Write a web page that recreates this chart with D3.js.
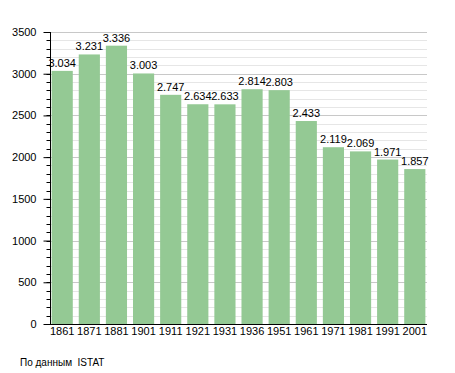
<!DOCTYPE html>
<html>
<head>
<meta charset="utf-8">
<script src="https://cdn.jsdelivr.net/npm/d3@7"></script>
<style>
  body { margin: 0; background: #fff; }
  text { font-family: "Liberation Sans", Arial, sans-serif; }
</style>
</head>
<body>
<svg width="455" height="373"></svg>
<script>
// census years and population
var years = ["1861","1871","1881","1901","1911","1921","1931","1936","1951","1961","1971","1981","1991","2001"];
var population = [3034, 3231, 3336, 3003, 2747, 2634, 2633, 2814, 2803, 2433, 2119, 2069, 1971, 1857];
var valueLabels = ["3.034","3.231","3.336","3.003","2.747","2.634","2.633","2.814","2.803","2.433","2.119","2.069","1.971","1.857"];
var yTicks = [0, 500, 1000, 1500, 2000, 2500, 3000, 3500];

var svg = d3.select("svg");
// plot box (note: "top" is reserved on window, so use other names)
var plotL = 50, plotR = 427, plotT = 32, plotB = 324;

var x = d3.scaleBand()
    .domain(years)
    .range([plotL, plotR])
    .paddingInner(0.22)
    .paddingOuter(0.06);

var y = d3.scaleLinear()
    .domain([0, 3500])
    .range([plotB, plotT]);

// minor grid every 100
svg.append("g").selectAll("line")
    .data(d3.range(100, 3600, 100).filter(function(d){ return d % 500 != 0; }))
    .enter().append("line")
    .attr("x1", plotL).attr("x2", plotR)
    .attr("y1", function(d){ return Math.round(y(d)) + 0.5; })
    .attr("y2", function(d){ return Math.round(y(d)) + 0.5; })
    .attr("stroke", "#e6e6e6");

// major grid
svg.append("g").selectAll("line")
    .data(yTicks.slice(1))
    .enter().append("line")
    .attr("x1", plotL).attr("x2", plotR)
    .attr("y1", function(d){ return Math.round(y(d)) + 0.5; })
    .attr("y2", function(d){ return Math.round(y(d)) + 0.5; })
    .attr("stroke", "#c8c8c8");

// bars
svg.append("g").selectAll("rect")
    .data(population)
    .enter().append("rect")
    .attr("x", function(d, i){ return x(years[i]); })
    .attr("y", function(d){ return y(d); })
    .attr("width", x.bandwidth())
    .attr("height", function(d){ return plotB - y(d); })
    .attr("fill", "#94c994");

// value labels
svg.append("g").selectAll("text")
    .data(population)
    .enter().append("text")
    .attr("x", function(d, i){ return x(years[i]) + x.bandwidth() / 2; })
    .attr("y", function(d){ return y(d) - 4; })
    .attr("text-anchor", "middle")
    .attr("font-size", "11px")
    .text(function(d, i){ return valueLabels[i]; });

// y axis with minor ticks
var yAxis = svg.append("g")
    .attr("transform", "translate(" + (plotL + 0.5) + ",0)");
yAxis.selectAll("line.minor")
    .data(d3.range(0, 3600, 100))
    .enter().append("line")
    .attr("class", "minor")
    .attr("x1", -4).attr("x2", 0)
    .attr("y1", function(d){ return Math.round(y(d)) + 0.5; })
    .attr("y2", function(d){ return Math.round(y(d)) + 0.5; })
    .attr("stroke", "#000");
yAxis.call(d3.axisLeft(y).tickValues(yTicks).tickSize(7).tickPadding(7).tickFormat(d3.format("d")))
    .call(function(g){ g.select(".domain").attr("d", "M0," + plotT + "V" + plotB); })
    .selectAll("text")
    .attr("font-size", "11px")
    .attr("font-family", "Liberation Sans, Arial, sans-serif");

// x axis
var xAxis = svg.append("g")
    .attr("transform", "translate(0," + (plotB + 0.5) + ")")
    .call(d3.axisBottom(x).tickSize(0).tickPadding(3));
xAxis.select(".domain").attr("d", "M" + plotL + ",0H" + plotR);
xAxis.selectAll("text")
    .attr("font-size", "11px")
    .attr("font-family", "Liberation Sans, Arial, sans-serif");

// source note
svg.append("text")
    .attr("x", 20)
    .attr("y", 366)
    .attr("font-size", "10px")
    .attr("xml:space", "preserve")
    .text("По данным  ISTAT");
</script>
</body>
</html>
